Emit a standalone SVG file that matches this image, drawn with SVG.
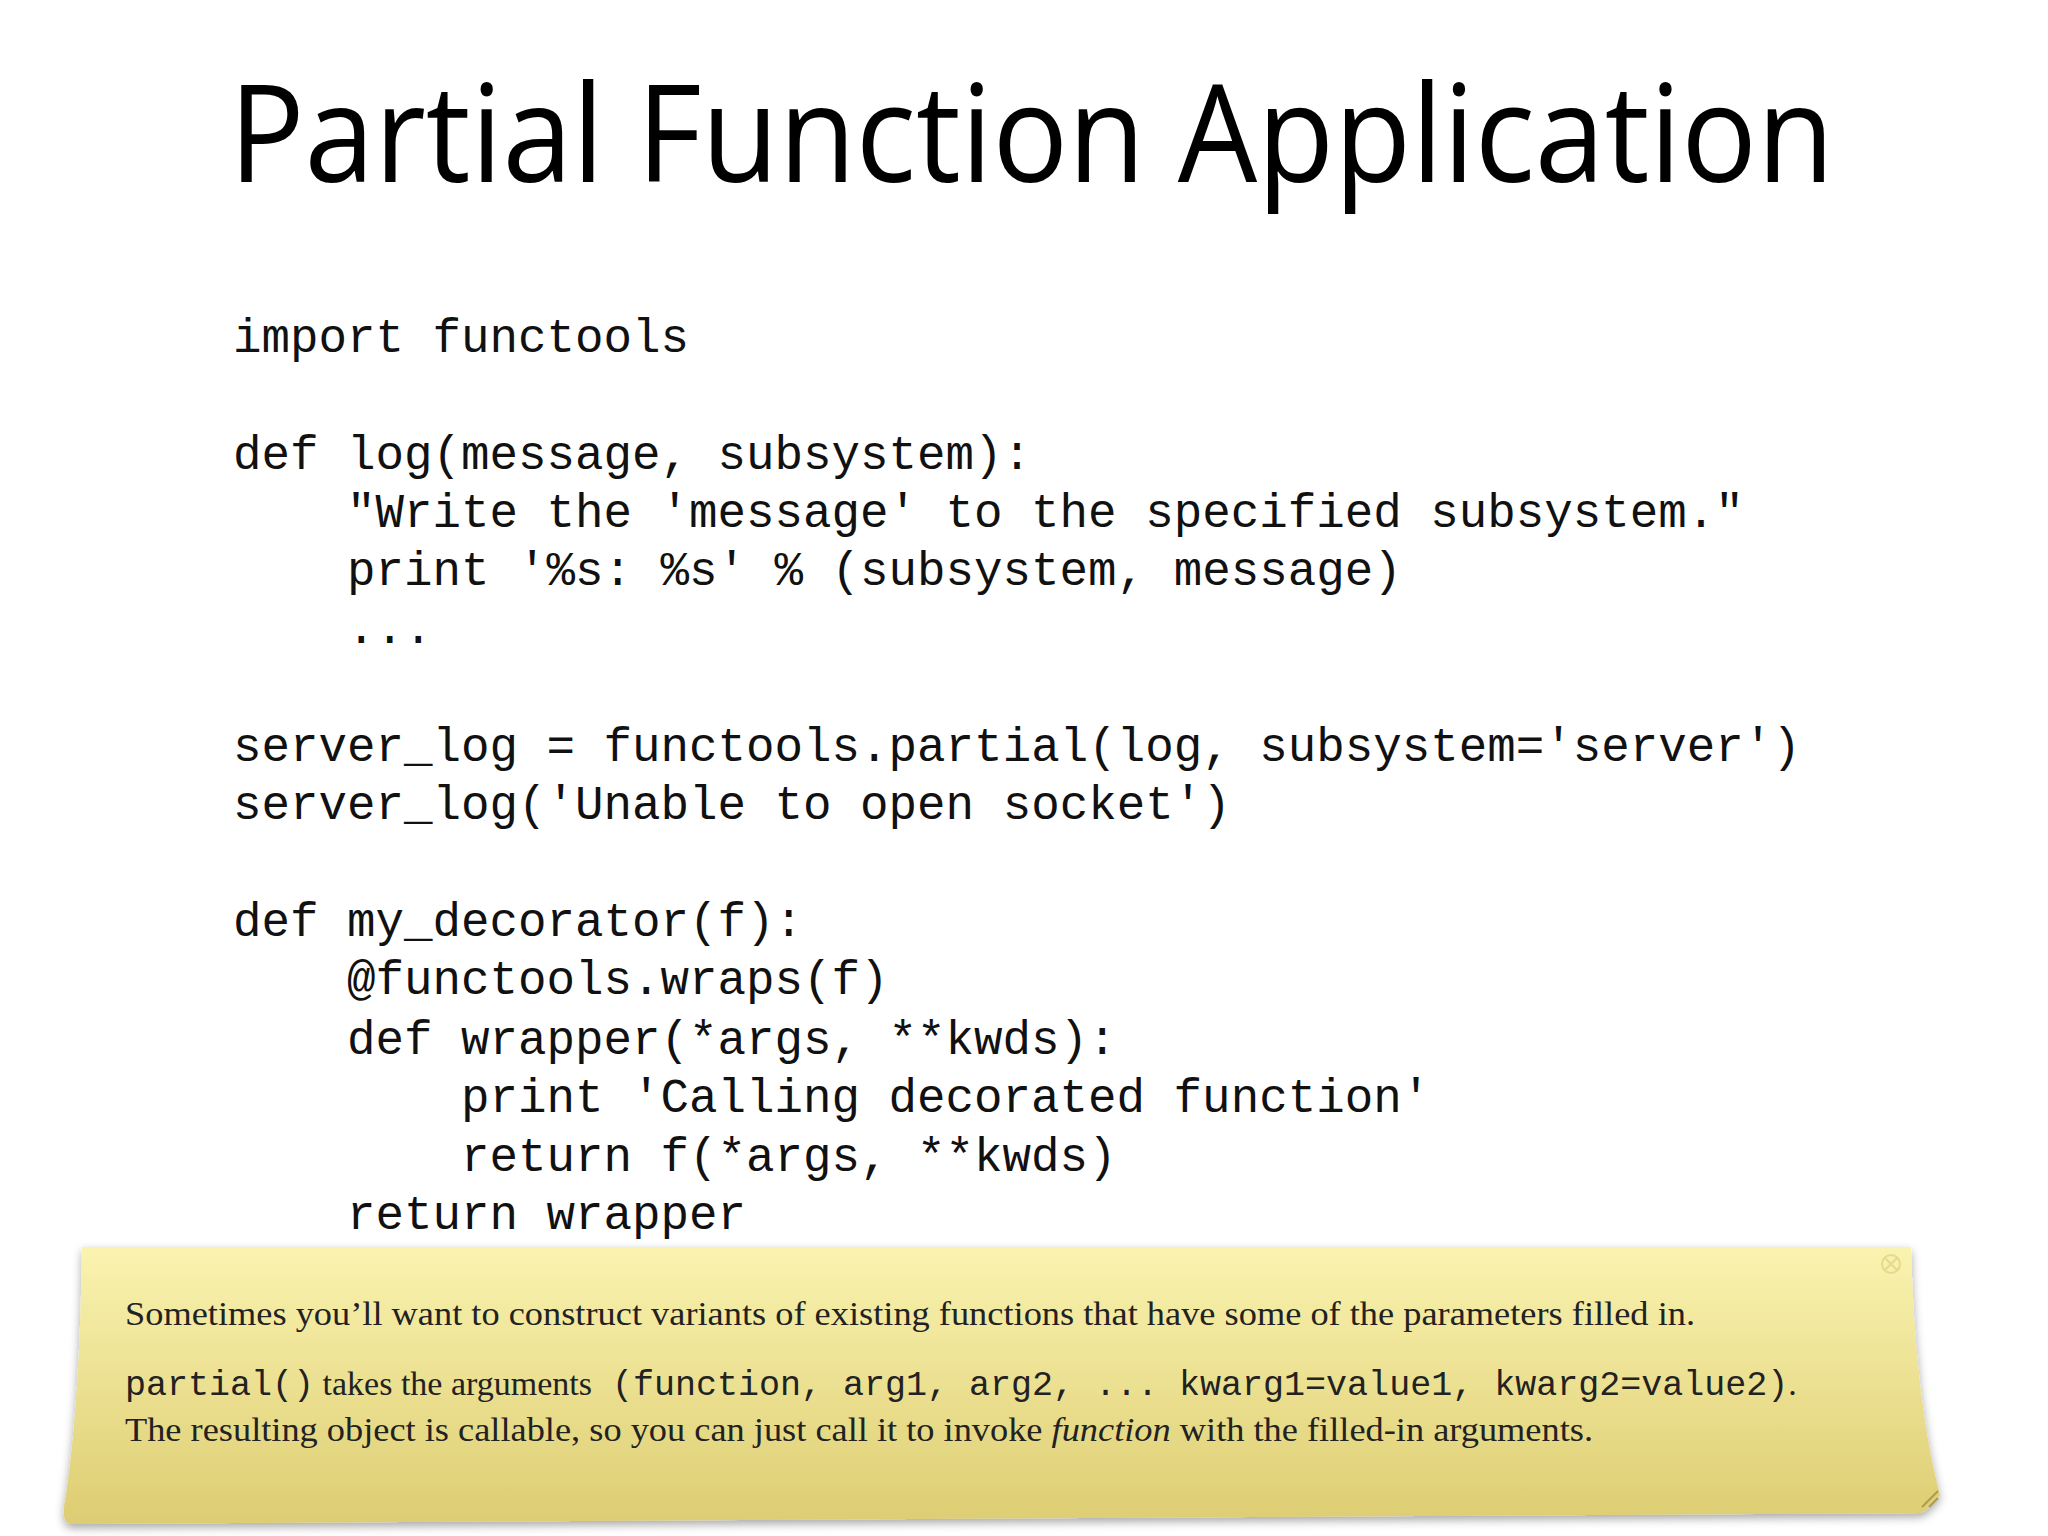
<svg xmlns="http://www.w3.org/2000/svg" width="2048" height="1536" viewBox="0 0 2048 1536">
<style>
.code{font-family:"Liberation Mono","DejaVu Sans Mono",monospace;font-size:47.5px;fill:#111}
.note{font-family:"Liberation Serif","Times New Roman",serif;font-size:34px;fill:#222}
.nm{font-family:"Liberation Mono",monospace;font-size:35px}
</style>
<defs>
<linearGradient id="ng" x1="0" y1="0" x2="0" y2="1">
<stop offset="0" stop-color="#faf3b0"/><stop offset="1" stop-color="#ddcd72"/>
</linearGradient>
<filter id="sh" x="-5%" y="-10%" width="110%" height="130%"><feDropShadow dx="0" dy="4" stdDeviation="5" flood-color="#000" flood-opacity="0.35"/></filter>
</defs>
<rect width="2048" height="1536" fill="#fff"/>
<text x="229" y="182" font-family="Open Sans,Lato,sans-serif" font-size="136" textLength="1605" lengthAdjust="spacingAndGlyphs" fill="#000">Partial Function Application</text>
<g class="code">
<text x="233" y="352">import functools</text>
<text x="233" y="469">def log(message, subsystem):</text>
<text x="347" y="527">"Write the 'message' to the specified subsystem."</text>
<text x="347" y="585">print '%s: %s' % (subsystem, message)</text>
<text x="347" y="643">...</text>
<text x="233" y="761">server_log = functools.partial(log, subsystem='server')</text>
<text x="233" y="819">server_log('Unable to open socket')</text>
<text x="233" y="936">def my_decorator(f):</text>
<text x="347" y="994">@functools.wraps(f)</text>
<text x="347" y="1054">def wrapper(*args, **kwds):</text>
<text x="461" y="1112">print 'Calling decorated function'</text>
<text x="461" y="1171">return f(*args, **kwds)</text>
<text x="347" y="1229">return wrapper</text>
</g>
<g id="note">
<path d="M82 1247 L1911 1247 Q1915 1400 1940 1495 Q1930 1510 1920 1513 L70 1524 Q60 1522 66 1495 Q80 1400 82 1247 Z" fill="url(#ng)" filter="url(#sh)"/>
<circle cx="1891" cy="1264" r="9" fill="none" stroke="#e4d98c" stroke-width="2"/>
<path d="M1885 1258 L1897 1270 M1897 1258 L1885 1270" stroke="#e4d98c" stroke-width="2"/>
<path d="M1922 1507 L1938 1491 M1929 1507 L1938 1498" stroke="#a89c50" stroke-width="2"/>
<text class="note" x="125" y="1325" textLength="1570" lengthAdjust="spacingAndGlyphs">Sometimes you’ll want to construct variants of existing functions that have some of the parameters filled in.</text>
<text class="note" x="125" y="1395"><tspan class="nm">partial()</tspan> takes the arguments <tspan class="nm" x="612">(function, arg1, arg2, ... kwarg1=value1, kwarg2=value2)</tspan>.</text>
<text class="note" x="125" y="1441" textLength="1468" lengthAdjust="spacingAndGlyphs">The resulting object is callable, so you can just call it to invoke <tspan font-style="italic">function</tspan> with the filled-in arguments.</text>
</g>
</svg>
